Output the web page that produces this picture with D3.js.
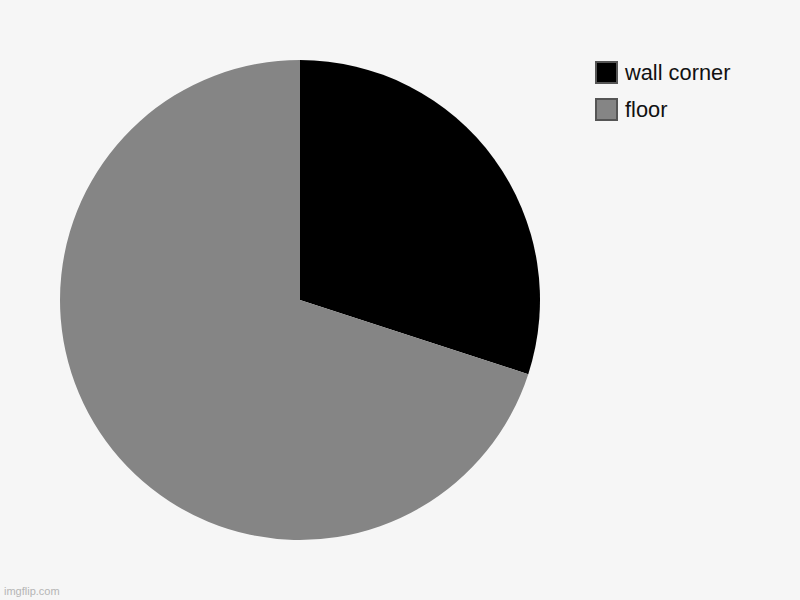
<!DOCTYPE html>
<html>
<head>
<meta charset="utf-8">
<script src="https://cdn.jsdelivr.net/npm/d3@7"></script>
<style>
  body { margin: 0; background: #f6f6f6; }
</style>
</head>
<body>
<div id="chart"></div>
<script>
// data
const labels = ["wall corner", "floor"];
const values = [30, 70];
const colors = ["#000000", "#858585"];

const width = 800, height = 600;
const cx = 300, cy = 300, radius = 240;

const svg = d3.select("#chart").append("svg")
  .attr("width", width)
  .attr("height", height)
  .style("font-family", "'Liberation Sans', Arial, sans-serif");

svg.append("rect").attr("width", width).attr("height", height).attr("fill", "#f6f6f6");

const color = d3.scaleOrdinal().domain(labels).range(colors);

const pie = d3.pie().sort(null).value(d => d.value);
const arc = d3.arc().innerRadius(0).outerRadius(radius);

const slices = labels.map((l, i) => ({ label: l, value: values[i] }));

svg.append("g")
  .attr("transform", `translate(${cx},${cy})`)
  .selectAll("path")
  .data(pie(slices))
  .join("path")
  .attr("d", arc)
  .attr("fill", d => color(d.data.label));

// legend
const legend = svg.append("g").attr("transform", "translate(595,61)");
const item = legend.selectAll("g")
  .data(labels)
  .join("g")
  .attr("transform", (d, i) => `translate(0,${i * 37})`);

item.append("rect")
  .attr("x", 1).attr("y", 1)
  .attr("width", 21).attr("height", 21)
  .attr("fill", d => color(d))
  .attr("stroke", "#555")
  .attr("stroke-width", 2);

item.append("text")
  .attr("x", 30)
  .attr("y", 19)
  .attr("font-size", 21.8)
  .attr("fill", "#111")
  .text(d => d);

// watermark
svg.append("text")
  .attr("x", 4).attr("y", 595)
  .attr("font-size", 11)
  .attr("fill", "#b5b5b5")
  .text("imgflip.com");
</script>
</body>
</html>
